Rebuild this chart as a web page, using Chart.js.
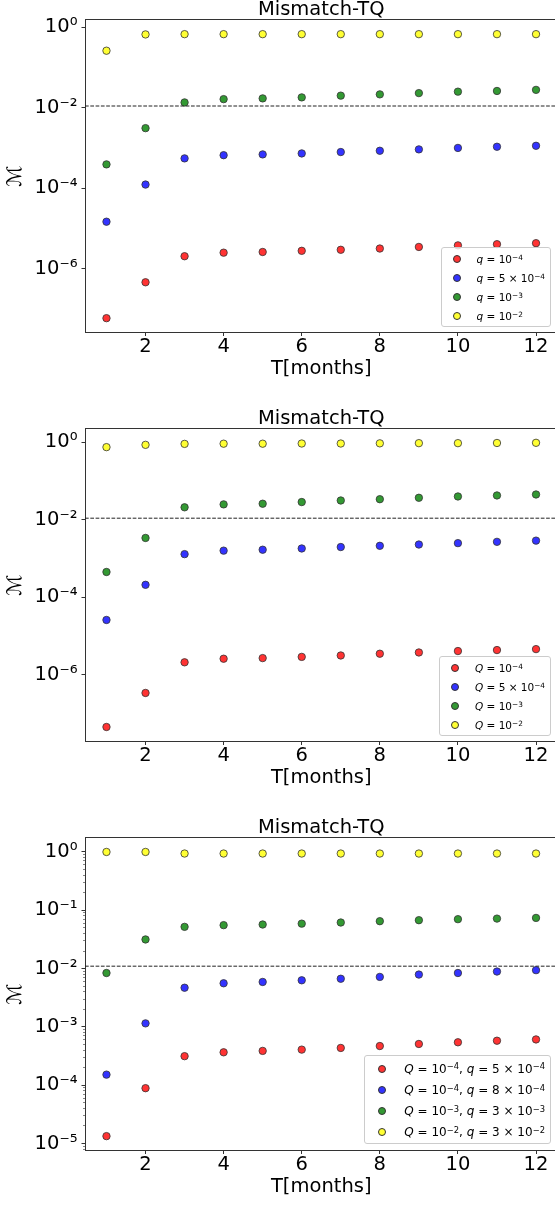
<!DOCTYPE html>
<html>
<head>
<meta charset="utf-8">
<script src="https://cdn.jsdelivr.net/npm/chart.js@4.4.1/dist/chart.umd.min.js"></script>
<style>
html,body{margin:0;padding:0;background:#fff;}
body{width:555px;height:1205px;overflow:hidden;position:relative;}
.panel{position:absolute;left:0;width:560px;height:409px;}
.panel canvas{position:absolute;left:0;top:0;}
.legend{position:absolute;right:9px;background:rgba(255,255,255,0.8);border:1px solid #cccccc;border-radius:3px;font-family:'DejaVu Sans',sans-serif;color:#000;}
.legend .row{display:flex;align-items:center;white-space:nowrap;}
.legend .mk{border-radius:50%;box-sizing:border-box;border:0.8px solid #333;flex:none;width:8px;height:8px;}
.legend sup{font-size:70%;line-height:0;position:relative;top:-0.45em;vertical-align:baseline;}
.legend.small{bottom:82px;font-size:10.5px;padding:1.5px 5px 0 10.7px;}
.legend.small .row{height:19.1px;}
.legend.small .mk{margin-right:16px;}
.legend.big{bottom:83px;font-size:12px;padding:2.8px 5px 0 13px;}
.legend.big .row{height:21.1px;}
.legend.big .mk{margin-right:18px;}
</style>
</head>
<body>
<div class="panel" style="top:0px"><canvas id="c1" width="560" height="409"></canvas><div class="legend small" id="l1"></div></div>
<div class="panel" style="top:409px"><canvas id="c2" width="560" height="409"></canvas><div class="legend small" id="l2"></div></div>
<div class="panel" style="top:818px"><canvas id="c3" width="560" height="409"></canvas><div class="legend big" id="l3"></div></div>
<script>
// ---------- shared ----------
const MONTHS = [1, 2, 3, 4, 5, 6, 7, 8, 9, 10, 11, 12];
const X_TICKS = [2, 4, 6, 8, 10, 12];
const X_MIN = 0.45;
const X_MAX = 12.55;
const THRESHOLD = 0.011;
const TITLE = 'Mismatch-TQ';
const X_LABEL = 'T[months]';
const Y_LABEL = 'ℳ';
const SERIES_COLORS = ['rgba(255,0,0,0.8)', 'rgba(0,0,255,0.8)', 'rgba(0,128,0,0.8)', 'rgba(255,255,0,0.8)'];

// ---------- panel 1 ----------
const P1_LABELS = ['q = 10⁻⁴', 'q = 5 × 10⁻⁴', 'q = 10⁻³', 'q = 10⁻²'];
const P1_RED = [5.9e-8, 4.6e-7, 2.04e-6, 2.5e-6, 2.6e-6, 2.78e-6, 2.95e-6, 3.17e-6, 3.47e-6, 3.8e-6, 4.06e-6, 4.3e-6];
const P1_BLUE = [1.47e-5, 1.23e-4, 5.5e-4, 6.6e-4, 6.9e-4, 7.3e-4, 7.9e-4, 8.5e-4, 9.2e-4, 1.0e-3, 1.07e-3, 1.13e-3];
const P1_GREEN = [3.9e-4, 3.1e-3, 0.0135, 0.0163, 0.017, 0.018, 0.0199, 0.0214, 0.023, 0.025, 0.026, 0.0277];
const P1_YELLOW = [0.26, 0.66, 0.67, 0.67, 0.67, 0.67, 0.67, 0.67, 0.67, 0.67, 0.67, 0.67];
const P1_Y_TICKS = [1e-6, 1e-4, 1e-2, 1];
const P1_Y_MIN = 2.6e-8;
const P1_Y_MAX = 1.55;

// ---------- panel 2 ----------
const P2_LABELS = ['Q = 10⁻⁴', 'Q = 5 × 10⁻⁴', 'Q = 10⁻³', 'Q = 10⁻²'];
const P2_RED = [4.5e-8, 3.4e-7, 2.1e-6, 2.6e-6, 2.7e-6, 2.9e-6, 3.15e-6, 3.5e-6, 3.77e-6, 4.1e-6, 4.35e-6, 4.6e-6];
const P2_BLUE = [2.6e-5, 2.1e-4, 1.3e-3, 1.6e-3, 1.69e-3, 1.82e-3, 1.98e-3, 2.13e-3, 2.3e-3, 2.5e-3, 2.7e-3, 2.9e-3];
const P2_GREEN = [4.5e-4, 3.4e-3, 0.021, 0.025, 0.026, 0.0287, 0.0315, 0.034, 0.037, 0.040, 0.0425, 0.045];
const P2_YELLOW = [0.75, 0.86, 0.91, 0.92, 0.92, 0.93, 0.93, 0.94, 0.95, 0.95, 0.96, 0.97];
const P2_Y_TICKS = [1e-6, 1e-4, 1e-2, 1];
const P2_Y_MIN = 1.9e-8;
const P2_Y_MAX = 2.27;

// ---------- panel 3 ----------
const P3_LABELS = ['Q = 10⁻⁴, q = 5 × 10⁻⁴', 'Q = 10⁻⁴, q = 8 × 10⁻⁴', 'Q = 10⁻³, q = 3 × 10⁻³', 'Q = 10⁻², q = 3 × 10⁻²'];
const P3_RED = [1.34e-5, 8.9e-5, 3.15e-4, 3.67e-4, 3.88e-4, 4.08e-4, 4.36e-4, 4.7e-4, 5.1e-4, 5.45e-4, 5.8e-4, 6.1e-4];
const P3_BLUE = [1.52e-4, 1.15e-3, 4.7e-3, 5.6e-3, 5.9e-3, 6.3e-3, 6.7e-3, 7.2e-3, 7.9e-3, 8.4e-3, 8.9e-3, 9.4e-3];
const P3_GREEN = [8.4e-3, 0.0316, 0.052, 0.0556, 0.057, 0.059, 0.0617, 0.065, 0.0676, 0.0704, 0.072, 0.074];
const P3_YELLOW = [1.0, 1.0, 0.94, 0.94, 0.94, 0.94, 0.94, 0.94, 0.94, 0.94, 0.94, 0.94];
const P3_Y_TICKS = [1e-5, 1e-4, 1e-3, 1e-2, 1e-1, 1];
const P3_Y_MIN = 7.6e-6;
const P3_Y_MAX = 1.77;

// ---------- helpers ----------
Chart.defaults.font.family = "'DejaVu Sans'";
Chart.defaults.color = '#000';

const SUP = {'-': '⁻', '0': '⁰', '1': '¹', '2': '²', '3': '³', '4': '⁴', '5': '⁵', '6': '⁶', '7': '⁷', '8': '⁸', '9': '⁹'};
function powLabel(v) {
  const e = Math.round(Math.log10(v));
  return '10' + String(e).split('').map(c => SUP[c]).join('');
}
const UNSUP = {'⁰':'0','¹':'1','²':'2','³':'3','⁴':'4','⁵':'5','⁶':'6','⁷':'7','⁸':'8','⁹':'9','⁻':'−'};
function labelHtml(s) {
  return s.replace(/\b([qQ])\b/g, '<i>$1</i>')
          .replace(/[⁰¹²³⁴⁵⁶⁷⁸⁹⁻]+/g, m => '<sup>' + [...m].map(c => UNSUP[c]).join('') + '</sup>');
}
function minorTicks(majors, lo, hi) {
  const out = [];
  const e0 = Math.floor(Math.log10(lo)), e1 = Math.ceil(Math.log10(hi));
  for (let e = e0; e <= e1; e++) {
    for (let k = 2; k <= 9; k++) {
      const v = k * Math.pow(10, e);
      if (v > lo && v < hi) out.push(v);
    }
  }
  return out;
}

const thresholdLine = {
  id: 'thresholdLine',
  beforeDatasetsDraw(chart, args, opts) {
    const y = chart.scales.y.getPixelForValue(opts.value);
    const {left, right} = chart.chartArea;
    const ctx = chart.ctx;
    ctx.save();
    ctx.strokeStyle = '#222';
    ctx.lineWidth = 1;
    ctx.setLineDash([3.7, 1.6]);
    ctx.beginPath();
    ctx.moveTo(left, y);
    ctx.lineTo(right, y);
    ctx.stroke();
    ctx.restore();
  }
};

function makePanel(canvasId, legendId, labels, series, yMin, yMax, yTicks, withMinor) {
  const datasets = series.map((vals, i) => ({
    label: labels[i],
    data: MONTHS.map((m, j) => ({x: m, y: vals[j]})),
    backgroundColor: SERIES_COLORS[i],
    borderColor: '#333',
    pointRadius: 3.7,
    pointHoverRadius: 3.7,
    pointBorderWidth: 0.8,
    showLine: false
  }));
  const scales = {
    x: {
      type: 'linear', position: 'bottom', min: X_MIN, max: X_MAX,
      afterBuildTicks: (ax) => { ax.ticks = X_TICKS.map(v => ({value: v})); },
      grid: {drawOnChartArea: false, drawTicks: true, tickLength: 3.5, tickColor: '#333', tickWidth: 1},
      border: {display: true, color: '#333', width: 1},
      ticks: {font: {size: 19.5}, color: '#000', padding: -1, maxRotation: 0, autoSkip: false},
      title: {display: true, text: X_LABEL, font: {size: 19.5}, color: '#000', padding: {top: 0, bottom: 28.3}},
      afterFit: (s) => { s.height = 76.5; }
    },
    xTop: {
      type: 'linear', position: 'top', min: X_MIN, max: X_MAX,
      grid: {display: true, drawOnChartArea: false, drawTicks: false},
      border: {display: true, color: '#333', width: 1},
      ticks: {display: false},
      afterFit: (s) => { s.height = 0; }
    },
    y: {
      type: 'logarithmic', position: 'left', min: yMin, max: yMax, weight: 1,
      afterBuildTicks: (ax) => { ax.ticks = yTicks.map(v => ({value: v, major: true})); },
      grid: {drawOnChartArea: false, drawTicks: true, tickLength: 3.5, tickColor: '#333', tickWidth: 1},
      border: {display: true, color: '#333', width: 1},
      ticks: {font: {size: 19.5}, color: '#000', padding: 4, autoSkip: false, callback: (v) => powLabel(v)},
      title: {display: true, text: Y_LABEL, font: {size: 20}, color: '#000', padding: {top: 4, bottom: 0}},
      afterFit: (s) => { s.width = 85; }
    }
  };
  if (withMinor) {
    const mt = minorTicks(yTicks, yMin, yMax);
    scales.yMinor = {
      type: 'logarithmic', position: 'left', min: yMin, max: yMax, weight: 0,
      afterBuildTicks: (ax) => { ax.ticks = mt.map(v => ({value: v})); },
      grid: {drawOnChartArea: false, drawTicks: true, tickLength: 2, tickColor: '#333', tickWidth: 0.6},
      border: {display: false},
      ticks: {display: false, autoSkip: false},
      afterFit: (s) => { s.width = 0; }
    };
  }
  const chart = new Chart(document.getElementById(canvasId), {
    type: 'scatter',
    data: {datasets},
    options: {
      responsive: false,
      animation: false,
      layout: {autoPadding: false, padding: {left: 0, right: 2.5, top: 0, bottom: 0}},
      scales,
      plugins: {
        legend: {display: false},
        tooltip: {enabled: false},
        title: {display: true, text: TITLE, fullSize: false, color: '#000', font: {size: 19.5, weight: 'normal', lineHeight: 1}, padding: {top: 0, bottom: 0}},
        thresholdLine: {value: THRESHOLD}
      }
    },
    plugins: [thresholdLine]
  });
  const lg = document.getElementById(legendId);
  lg.innerHTML = chart.data.datasets.map(ds =>
    '<div class="row"><span class="mk" style="background:' + ds.backgroundColor + '"></span><span>' + labelHtml(ds.label) + '</span></div>'
  ).join('');
  return chart;
}

makePanel('c1', 'l1', P1_LABELS, [P1_RED, P1_BLUE, P1_GREEN, P1_YELLOW], P1_Y_MIN, P1_Y_MAX, P1_Y_TICKS, false);
makePanel('c2', 'l2', P2_LABELS, [P2_RED, P2_BLUE, P2_GREEN, P2_YELLOW], P2_Y_MIN, P2_Y_MAX, P2_Y_TICKS, false);
makePanel('c3', 'l3', P3_LABELS, [P3_RED, P3_BLUE, P3_GREEN, P3_YELLOW], P3_Y_MIN, P3_Y_MAX, P3_Y_TICKS, true);
</script>
</body>
</html>
